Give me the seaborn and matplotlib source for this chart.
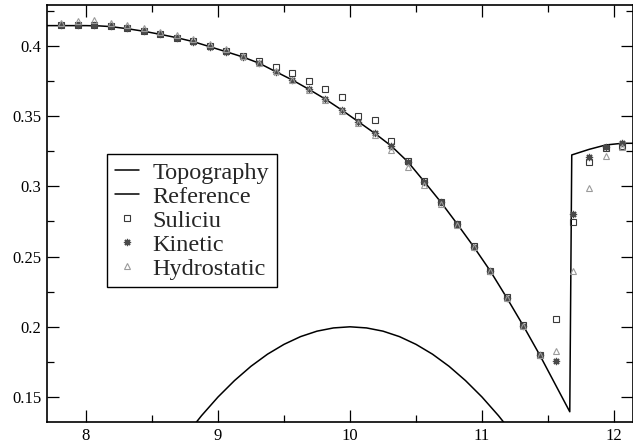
import matplotlib
matplotlib.use("Agg")
import matplotlib.pyplot as plt
from matplotlib.ticker import MultipleLocator
import pandas as pd
import seaborn as sns

# Sample positions of the numerical schemes
x_pts = [7.8125, 7.9375, 8.0625, 8.1875, 8.3125, 8.4375, 8.5625, 8.6875,
         8.8125, 8.9375, 9.0625, 9.1875, 9.3125, 9.4375, 9.5625, 9.6875,
         9.8125, 9.9375, 10.0625, 10.1875, 10.3125, 10.4375, 10.5625, 10.6875,
         10.8125, 10.9375, 11.0625, 11.1875, 11.3125, 11.4375, 11.5625, 11.6875,
         11.8125, 11.9375, 12.0625]

suliciu = [0.4150, 0.4152, 0.4150, 0.4140, 0.4125, 0.4107, 0.4085, 0.4060,
           0.4032, 0.3998, 0.3965, 0.3932, 0.3890, 0.3847, 0.3806, 0.3753,
           0.3697, 0.3636, 0.3500, 0.3473, 0.3326, 0.3180, 0.3036, 0.2892,
           0.2735, 0.2572, 0.2400, 0.2209, 0.2010, 0.1802, 0.2053, 0.2749,
           0.3172, 0.3270, 0.3288]

kinetic = [0.4150, 0.4152, 0.4152, 0.4142, 0.4125, 0.4105, 0.4082, 0.4057,
           0.4028, 0.3993, 0.3959, 0.3922, 0.3877, 0.3817, 0.3758, 0.3692,
           0.3623, 0.3544, 0.3461, 0.3378, 0.3288, 0.3176, 0.3034, 0.2889,
           0.2732, 0.2570, 0.2398, 0.2207, 0.2008, 0.1799, 0.1756, 0.2801,
           0.3212, 0.3278, 0.3307]

hydrostatic = [0.4166, 0.4178, 0.4185, 0.4166, 0.4150, 0.4130, 0.4102, 0.4076,
               0.4048, 0.4012, 0.3975, 0.3930, 0.3880, 0.3820, 0.3758, 0.3690,
               0.3618, 0.3538, 0.3452, 0.3365, 0.3262, 0.3140, 0.3010, 0.2878,
               0.2728, 0.2565, 0.2395, 0.2205, 0.2006, 0.1797, 0.1830, 0.2398,
               0.2991, 0.3217, 0.3278]

# Reference solution (free surface)
ref_x = [7.70, 8.00, 8.10, 8.1875, 8.3125, 8.4375, 8.5625, 8.6875, 8.8125,
         8.9375, 9.0625, 9.1875, 9.3125, 9.4375, 9.5625, 9.6875, 9.8125,
         9.9375, 10.0625, 10.1875, 10.3125, 10.4375, 10.5625, 10.6875,
         10.8125, 10.9375, 11.0625, 11.1875, 11.3125, 11.4375, 11.665,
         11.68, 11.8125, 11.9375, 12.0625, 12.15]
ref_y = [0.4145, 0.4145, 0.4143, 0.4138, 0.4123, 0.4105, 0.4083, 0.4059,
         0.4031, 0.3995, 0.3959, 0.3922, 0.3877, 0.3817, 0.3758, 0.3692,
         0.3622, 0.3544, 0.3461, 0.3378, 0.3288, 0.3176, 0.3034, 0.2889,
         0.2732, 0.2570, 0.2398, 0.2207, 0.2008, 0.1799, 0.1395,
         0.3224, 0.3264, 0.3295, 0.3307, 0.3307]

# Bottom topography (bump)
topo_x = [8.75, 8.875, 9.0, 9.125, 9.25, 9.375, 9.5, 9.625, 9.75, 9.875, 10.0,
          10.125, 10.25, 10.375, 10.5, 10.625, 10.75, 10.875, 11.0, 11.125, 11.25]
topo_y = [0.1219, 0.1367, 0.1500, 0.1617, 0.1719, 0.1805, 0.1875, 0.1930,
          0.1969, 0.1992, 0.2000, 0.1992, 0.1969, 0.1930, 0.1875, 0.1805,
          0.1719, 0.1617, 0.1500, 0.1367, 0.1219]

sns.set_theme(style="white")
plt.rcParams["font.family"] = ["Liberation Serif", "DejaVu Serif"]

fig = plt.figure(figsize=(6.33, 4.47), dpi=100)
ax = fig.add_axes([47 / 633, 25 / 447, 1 - 47 / 633, (422 - 4.7) / 447])

topo = pd.DataFrame({"x": topo_x, "y": topo_y})
ref = pd.DataFrame({"x": ref_x, "y": ref_y})
pts = pd.DataFrame({"x": x_pts, "suliciu": suliciu, "kinetic": kinetic,
                    "hydrostatic": hydrostatic})

sns.lineplot(data=topo, x="x", y="y", ax=ax, color="black", lw=1.1,
             sort=False, estimator=None, label="Topography")
sns.lineplot(data=ref, x="x", y="y", ax=ax, color="black", lw=1.1,
             sort=False, estimator=None, label="Reference")
sns.lineplot(data=pts, x="x", y="suliciu", ax=ax, linestyle="none",
             marker="s", markersize=4.4, markerfacecolor="none",
             markeredgecolor="#3a3a3a", markeredgewidth=0.8, color="#3a3a3a",
             sort=False, estimator=None, label="Suliciu")
sns.lineplot(data=pts, x="x", y="kinetic", ax=ax, linestyle="none",
             marker=(8, 2, 0), markersize=5.2, markerfacecolor="none",
             markeredgecolor="#4a4a4a", markeredgewidth=0.9, color="#4a4a4a",
             sort=False, estimator=None, label="Kinetic")
sns.lineplot(data=pts, x="x", y="hydrostatic", ax=ax, linestyle="none",
             marker="^", markersize=4.6, markerfacecolor="none",
             markeredgecolor="#9a9a9a", markeredgewidth=0.8, color="#9a9a9a",
             sort=False, estimator=None, label="Hydrostatic")

ax.set_xlim(7.7045, 12.144)
ax.set_ylim(0.1322, 0.4294)
ax.set_xlabel("")
ax.set_ylabel("")

ax.xaxis.set_minor_locator(MultipleLocator(0.5))
ax.yaxis.set_minor_locator(MultipleLocator(0.025))
ax.set_yticks([0.15, 0.2, 0.25, 0.3, 0.35, 0.4])
ax.set_yticklabels(["0.15", "0.2", "0.25", "0.3", "0.35", "0.4"])
ax.set_xticks([8, 9, 10, 11, 12])
ax.set_xticklabels(["8", "9", "10", "11", "12"])

ax.tick_params(which="both", direction="in", top=True, right=True,
               bottom=True, left=True, width=0.9, colors="black",
               labelsize=12)
ax.tick_params(which="major", length=8.5, pad=4)
ax.tick_params(which="minor", length=4.8)
for side in ["left", "bottom", "top", "right"]:
    ax.spines[side].set_color("black")
    ax.spines[side].set_linewidth(1.2)

leg = ax.legend(loc="upper left", bbox_to_anchor=(0.102, 0.642),
                borderaxespad=0, fontsize=17.5, frameon=True, fancybox=False,
                framealpha=1, edgecolor="black", handlelength=1.0,
                handletextpad=0.55, labelspacing=0.08, borderpad=0.32)
leg.get_frame().set_linewidth(1.0)

fig.savefig("out.png", dpi=100)
